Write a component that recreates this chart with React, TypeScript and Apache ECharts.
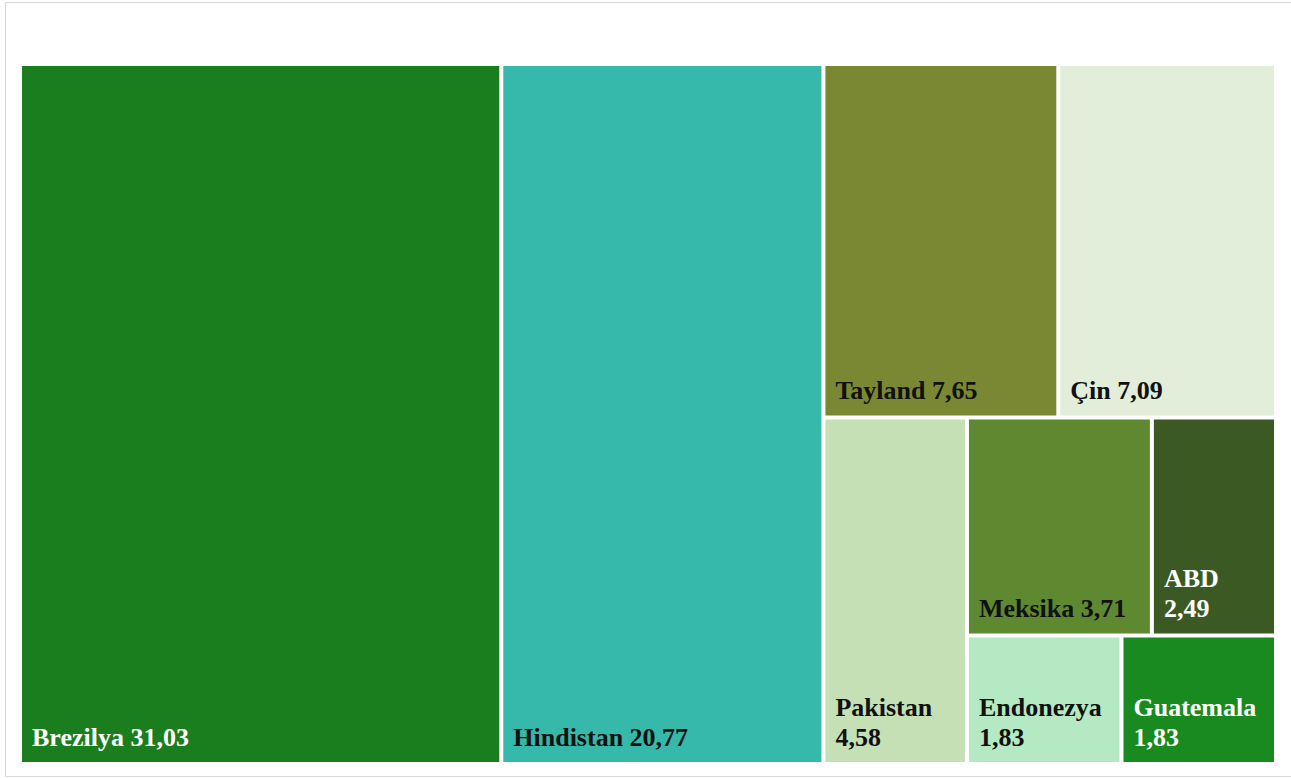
import React, { useEffect, useRef } from "react";
import * as echarts from "echarts";

// Data (values in %)
const names = ["Brezilya", "Hindistan", "Tayland", "Çin", "Pakistan", "Meksika", "ABD", "Endonezya", "Guatemala"];
const values = [31.03, 20.77, 7.65, 7.09, 4.58, 3.71, 2.49, 1.83, 1.83];
const colors = ["#1a7e1f", "#36b9aa", "#7b8833", "#e2eed9", "#c6e0b5", "#5e8930", "#3b5a23", "#b4e9c4", "#188a20"];
const labelColors = ["#ffffff", "#111111", "#111111", "#111111", "#111111", "#111111", "#ffffff", "#111111", "#ffffff"];
const twoLineLabels = [false, false, false, false, true, false, true, true, true];

// grouping of cells (indices into the arrays above) used to reproduce the tile arrangement
const tileGroups: any[] = [0, 1, 2, 3, [4, [5, 6, 7, 8]]];

const fmt = (v: number) => v.toFixed(2).replace(".", ",");

function buildNode(entry: any, key: string): any {
  if (Array.isArray(entry)) {
    return {
      name: key,
      children: entry.map((e, j) => buildNode(e, key + "-" + j)),
    };
  }
  const i = entry as number;
  return {
    name: names[i],
    value: values[i],
    itemStyle: { color: colors[i], borderWidth: 2, borderColor: "#ffffff" },
    label: {
      color: labelColors[i],
      formatter: names[i] + (twoLineLabels[i] ? "\n" : " ") + fmt(values[i]),
    },
  };
}

export default function App() {
  const ref = useRef<HTMLDivElement>(null);
  useEffect(() => {
    if (!ref.current) return;
    const chart = echarts.init(ref.current, undefined, { renderer: "svg" });
    const data = tileGroups.map((e, j) => buildNode(e, "g" + j));
    chart.setOption({
      animation: false,
      backgroundColor: "#ffffff",
      graphic: [
        {
          type: "rect",
          silent: true,
          shape: { x: 5.5, y: 2.5, width: 1300, height: 774 },
          style: { fill: "none", stroke: "#d9d9d9", lineWidth: 1 },
        },
      ],
      series: [
        {
          type: "treemap",
          left: 20,
          top: 64,
          width: 1256,
          height: 700,
          roam: false,
          nodeClick: false,
          sort: false,
          squareRatio: 1,
          visibleMin: 0,
          breadcrumb: { show: false },
          itemStyle: { borderWidth: 0, gapWidth: 0, borderColor: "#ffffff" },
          upperLabel: { show: false },
          label: {
            show: true,
            position: "insideBottomLeft",
            distance: 0,
            padding: [0, 0, 10, 10],
            fontFamily: "Liberation Serif",
            fontWeight: "bold",
            fontSize: 26,
            lineHeight: 30,
            overflow: "none",
          },
          emphasis: { disabled: true },
          data,
        },
      ],
    });
    return () => chart.dispose();
  }, []);
  return (
    <div
      ref={ref}
      style={{ position: "absolute", left: 0, top: 0, width: 1291, height: 778, background: "#fff" }}
    />
  );
}
